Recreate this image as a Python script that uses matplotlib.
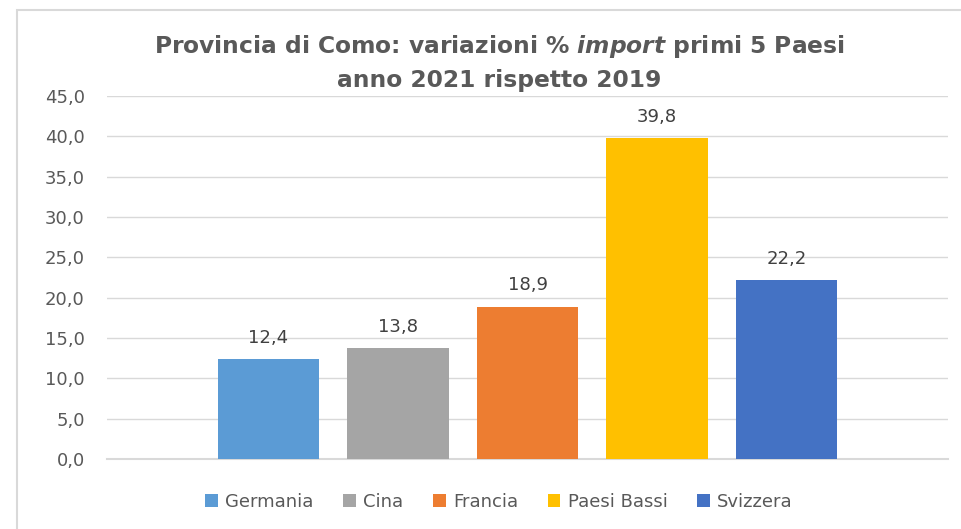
import matplotlib
matplotlib.use('Agg')
import matplotlib.pyplot as plt
from matplotlib.patches import Rectangle, Patch

paesi = ['Germania', 'Cina', 'Francia', 'Paesi Bassi', 'Svizzera']
variazioni = [12.4, 13.8, 18.9, 39.8, 22.2]
colori = ['#5B9BD5', '#A5A5A5', '#ED7D31', '#FFC000', '#4472C4']
yticks = [0, 5, 10, 15, 20, 25, 30, 35, 40, 45]

plt.rcParams['mathtext.fontset'] = 'custom'
plt.rcParams['mathtext.it'] = 'DejaVu Sans:italic:bold'

W, H = 962, 529
fig = plt.figure(figsize=(W / 100, H / 100), dpi=100)

# bordo del grafico (tagliato a destra e in basso come nello screenshot)
fig.patches.append(Rectangle((17 / W, -0.1), 1.2, 1 - 10 / H + 0.1, transform=fig.transFigure,
                             fill=False, edgecolor='#D9D9D9', linewidth=1.5))

ax = fig.add_axes([107 / W, 1 - 459 / H, (948 - 107) / W, (459 - 96) / H])
x = list(range(len(paesi)))
bars = ax.bar(x, variazioni, width=0.78, color=colori, zorder=3)

for b, v in zip(bars, variazioni):
    ax.text(b.get_x() + b.get_width() / 2, v + 2.0, f'{v:.1f}'.replace('.', ','),
            ha='center', va='baseline', fontsize=13, color='#404040')

ax.set_xlim(-1.247, 5.247)
ax.set_ylim(0, 45)
ax.set_yticks(yticks)
ax.set_yticklabels([f'{t:.1f}'.replace('.', ',') for t in yticks], fontsize=13, color='#595959')
ax.set_xticks([])
ax.tick_params(axis='y', length=0, pad=16)
ax.grid(axis='y', color='#D9D9D9', linewidth=1, zorder=0)
for s in ['top', 'right', 'left']:
    ax.spines[s].set_visible(False)
ax.spines['bottom'].set_color('#D9D9D9')
ax.spines['bottom'].set_linewidth(1.5)

fig.text(499 / W, 1 - 53 / H, 'Provincia di Como: variazioni % $\\it{import}$ primi 5 Paesi',
         ha='center', va='baseline', fontsize=16.8, fontweight='bold', color='#595959')
fig.text(499 / W, 1 - 87 / H, 'anno 2021 rispetto 2019',
         ha='center', va='baseline', fontsize=16.8, fontweight='bold', color='#595959')

handles = [Patch(facecolor=c, label=p) for p, c in zip(paesi, colori)]
fig.legend(handles=handles, loc='center', bbox_to_anchor=(499 / W, 1 - 502 / H), ncol=5,
           frameon=False, fontsize=13, handlelength=0.7, handleheight=0.7,
           handletextpad=0.4, columnspacing=1.65, labelcolor='#595959')

fig.savefig('out.png', dpi=100)
